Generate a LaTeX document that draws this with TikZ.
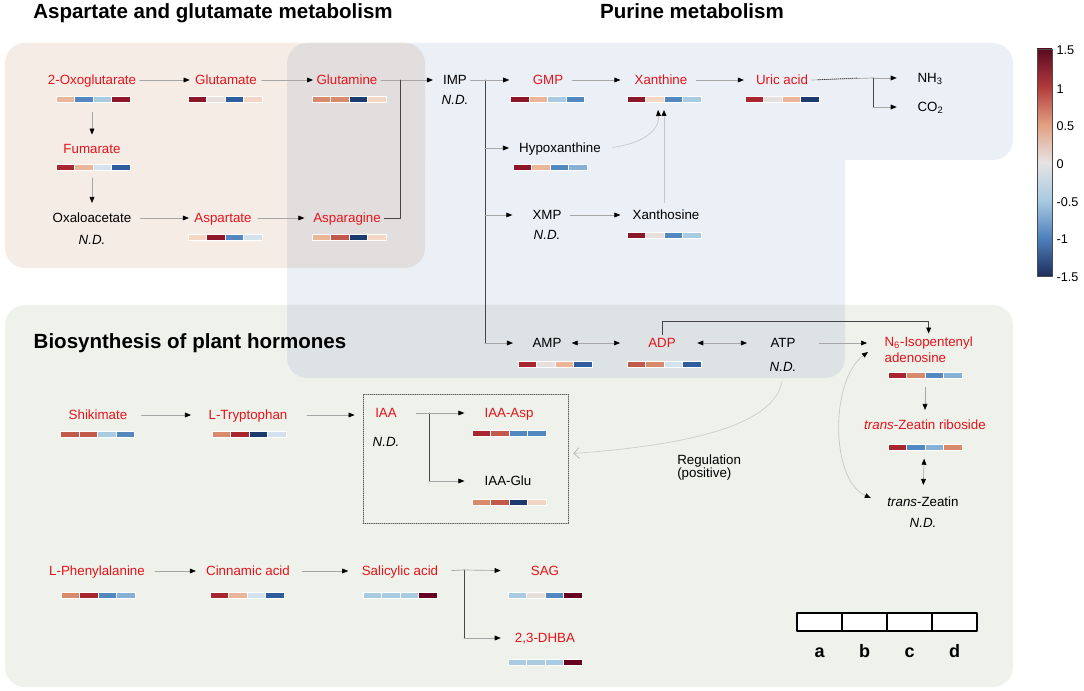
\documentclass[tikz,border=0pt]{standalone}
\usepackage{fontspec}
\setmainfont{Liberation Sans}
\usetikzlibrary{arrows.meta,calc}

\definecolor{bgorange}{HTML}{F6ECE6}
\definecolor{bgblue}{HTML}{EBF0F6}
\definecolor{bggreen}{HTML}{EFF1EB}
\definecolor{bgob}{HTML}{E3DEDE}
\definecolor{bggb}{HTML}{DDE3E4}
\definecolor{metred}{HTML}{E3141B}
% heat map shades, dark red to dark blue
\definecolor{hA}{HTML}{67001F}
\definecolor{hB}{HTML}{8E1629}
\definecolor{hC}{HTML}{A8272F}
\definecolor{hD}{HTML}{C25A4C}
\definecolor{hE}{HTML}{D88A6C}
\definecolor{hF}{HTML}{EBB697}
\definecolor{hG}{HTML}{F4D6C4}
\definecolor{hH}{HTML}{E7DFDB}
\definecolor{hI}{HTML}{D3E2EE}
\definecolor{hJ}{HTML}{A9CBE2}
\definecolor{hK}{HTML}{86B1D7}
\definecolor{hL}{HTML}{5287C0}
\definecolor{hM}{HTML}{2F5C9C}
\definecolor{hN}{HTML}{1B3A70}
% colour bar stops
\definecolor{cbA}{HTML}{5A0A20}
\definecolor{cbB}{HTML}{B23A3C}
\definecolor{cbC}{HTML}{E3A080}
\definecolor{cbD}{HTML}{E6E3E3}
\definecolor{cbE}{HTML}{A9CBE2}
\definecolor{cbF}{HTML}{4F80BD}
\definecolor{cbG}{HTML}{1E2E5C}

% x y c1 c2 c3 c4
\newcommand{\heatbar}[6]{%
  \foreach \hc [count=\hi from 0] in {#3,#4,#5,#6}
    \filldraw[fill=\hc,draw=white,line width=0.2pt] (#1-37+18.5*\hi,#2-3) rectangle ++(18.5,6);
}

\begin{document}
\begin{tikzpicture}[line cap=round,line join=round,x=0.75pt,y=-0.75pt,
  mfont/.style={font=\fontsize{10}{12}\selectfont},
  met/.style={mfont,text height=7.2pt,text depth=0pt,inner sep=2.5pt},
  hit/.style={met,text=metred},
  nd/.style={met,font=\fontsize{10}{12}\selectfont\itshape},
  ttl/.style={font=\fontsize{15.4}{18}\selectfont\bfseries,anchor=base},
  lgd/.style={font=\fontsize{13.5}{16}\selectfont\bfseries,anchor=base},
  cbl/.style={font=\fontsize{9.5}{11}\selectfont,text height=6.8pt,text depth=0pt,anchor=west,inner sep=1pt},
  seg/.style={draw=gray!70,line width=0.5pt},
  arr/.style={seg,-{Triangle[length=4.5pt,width=3.6pt,color=black]}},
  arrs/.style={seg,{Triangle[length=4.5pt,width=3.6pt,color=black]}-{Triangle[length=4.5pt,width=3.6pt,color=black]}},
  link/.style={draw=gray!55!black,line width=0.7pt}]
\useasboundingbox (0,0) rectangle (1084,691);

% panels
\fill[bgorange,rounded corners=15pt] (5,43) rectangle (425,268);
\fill[bggreen,rounded corners=15pt] (5,305) rectangle (1013,687);
\fill[bgblue,rounded corners=15pt] (287,43) rectangle (1013,160);
\fill[bgblue,rounded corners=15pt] (287,100) rectangle (845,378);
\begin{scope}
  \clip[rounded corners=15pt] (5,43) rectangle (425,268);
  \fill[bgob,rounded corners=15pt] (287,43) rectangle (1013,160);
  \fill[bgob,rounded corners=15pt] (287,100) rectangle (845,378);
\end{scope}
\begin{scope}
  \clip[rounded corners=15pt] (5,305) rectangle (1013,687);
  \fill[bggb,rounded corners=15pt] (287,100) rectangle (845,378);
\end{scope}

\node[ttl] (tasp) at (213,19) {Aspartate and glutamate metabolism};
\node[ttl] (tpur) at (692,19) {Purine metabolism};
\node[ttl] (thor) at (190,349) {Biosynthesis of plant hormones};

% aspartate and glutamate
\node[hit] (oxo) at (92,80) {2-Oxoglutarate};
\node[hit] (glu) at (226,80) {Glutamate};
\node[hit] (gln) at (347,80) {Glutamine};
\node[hit] (fum) at (92,149) {Fumarate};
\node[met] (oaa) at (92,218) {Oxaloacetate};
\node[nd] (oaand) at (92,240) {N.D.};
\node[hit] (asp) at (223,218) {Aspartate};
\node[hit] (asn) at (347,218) {Asparagine};

% purine
\node[met] (imp) at (455,80) {IMP};
\node[nd] (impnd) at (455,100) {N.D.};
\node[hit] (gmp) at (548,80) {GMP};
\node[hit] (xan) at (661,80) {Xanthine};
\node[hit] (uric) at (782,80) {Uric acid};
\node[met,anchor=west] (nh3) at (914,78) {NH\textsubscript{3}};
\node[met,anchor=west] (co2) at (914,107) {CO\textsubscript{2}};
\node[met] (hyp) at (560,148) {Hypoxanthine};
\node[met] (xmp) at (547,215) {XMP};
\node[nd] (xmpnd) at (547,235) {N.D.};
\node[met] (xao) at (666,215) {Xanthosine};
\node[met] (amp) at (547,343) {AMP};
\node[hit] (adp) at (662,343) {ADP};
\node[met] (atp) at (783,343) {ATP};
\node[nd] (atpnd) at (783,367) {N.D.};

% hormones
\node[mfont,text=metred,align=left,anchor=west,inner sep=2.5pt] (n6) at (881,350) {N\textsubscript{6}-Isopentenyl\\adenosine};
\node[hit] (tzr) at (925,425) {\textit{trans}-Zeatin riboside};
\node[met] (tz) at (923,502) {\textit{trans}-Zeatin};
\node[nd] (tznd) at (923,523) {N.D.};
\node[hit] (shik) at (98,415) {Shikimate};
\node[hit] (trp) at (248,415) {L-Tryptophan};
\node[draw=gray!70!black,densely dotted,line width=0.6pt,minimum width=153.75pt,minimum height=96.75pt,inner sep=0pt] (iaabox) at (465.5,458.5) {};
\node[hit] (iaa) at (386,413) {IAA};
\node[nd] (iaand) at (386,442) {N.D.};
\node[hit] (iaaasp) at (509,413) {IAA-Asp};
\node[met] (iaaglu) at (508,481) {IAA-Glu};
\node[mfont,font=\fontsize{10}{9.75}\selectfont,align=left,anchor=west,inner sep=0pt] (reg) at (677,468) {Regulation\\(positive)};
\node[hit] (phe) at (97,571) {L-Phenylalanine};
\node[hit] (cin) at (248,571) {Cinnamic acid};
\node[hit] (sal) at (400,571) {Salicylic acid};
\node[hit] (sag) at (545,571) {SAG};
\node[hit] (dhba) at (545,638) {2,3-DHBA};

% branch points
\coordinate (jasn) at (400,80);
\coordinate (t0) at (485,80);
\coordinate (t1) at (485,343);
\coordinate (br) at (873,78);
\coordinate (xin1) at (658,110);
\coordinate (xin2) at (664,110);
\coordinate (jiaa) at (429,413);
\coordinate (jsal) at (464,570);

% connectors, aspartate and glutamate
\draw[arr,shorten >=1.5pt] (oxo.east) -- (glu.west);
\draw[arr,shorten <=1pt] (glu.east) -- (gln.west);
\draw[arr,shorten <=18pt,shorten >=4.5pt] (oxo.south) -- (fum.north);
\draw[arr,shorten <=15.5pt,shorten >=5pt] (fum.south) -- (oaa.north);
\draw[arr,shorten <=4pt,shorten >=1.5pt] (oaa.east) -- (asp.west);
\draw[arr,shorten <=2pt,shorten >=4pt] (asp.east) -- (asn.west);
\draw[arr,shorten >=5pt] (gln.east) -- (imp.west);
\draw[link] (asn.east) -| (jasn);

% connectors, purine
\draw[seg] (imp.east) -- (t0);
\draw[link] (t0) -- (t1);
\draw[arr,shorten >=15pt] (t0) -- (gmp.west);
\draw[arr,shorten >=5pt] (t0 |- hyp) -- (hyp.west);
\draw[arr,shorten >=12.5pt] (t0 |- xmp) -- (xmp.west);
\draw[arr,shorten >=12pt] (t1) -- (amp.west);
\draw[arr,shorten <=4pt,shorten >=8pt] (gmp.east) -- (xan.west);
\draw[arr,shorten <=4pt,shorten >=6.5pt] (xan.east) -- (uric.west);
\draw[arr,shorten <=4pt,shorten >=6.5pt] (xmp.east) -- (xao.west);
\draw[seg] (uric.east) -- (br);
\draw[densely dotted,gray!40!black,line width=0.5pt,shorten <=5pt] (uric.east) -- ($(br)+(-15,0)$);
\draw[arr,shorten >=13pt] (br) -- (nh3.west);
\draw[link] (br) -- (br |- co2);
\draw[arr,shorten >=13pt] (br |- co2) -- (co2.west);
\draw[arr,draw=gray!45,shorten <=6pt] (hyp.east) to[out=5,in=-85] (xin1);
\draw[arr,draw=gray!45,shorten <=3pt] (xao.north -| xin2) -- (xin2);
\draw[arrs,shorten <=5pt,shorten >=18.5pt] (amp.east) -- (adp.west);
\draw[arrs,shorten <=13.5pt,shorten >=15pt] (adp.east) -- (atp.west);
\draw[arr,shorten <=15pt,shorten >=10.5pt] (atp.east) -- (atp.east -| n6.west);
\draw[link,-{Triangle[length=4.5pt,width=3.6pt,color=black]}] (adp.north) -- ++(0,-13) -| (n6.north);

% connectors, hormones
\draw[arr,shorten <=15.5pt,shorten >=5pt] (tzr.north |- n6.south) -- (tzr.north);
\draw[arrs,shorten <=19pt,shorten >=6.5pt] (tzr.south) -- (tz.north);
\draw[arrs,draw=gray!45] ($(n6.west)+(-13,2)$) .. controls (830,380) and (830,480) .. ($(tz.west)+(-13,-4)$);
\draw[draw=gray!40,line width=0.5pt,shorten <=4pt,-{Straight Barb[length=4pt,width=8pt,color=gray!60]}] (atpnd.south) .. controls (775,425) and (690,445) .. ($(iaabox.east)+(5,-5)$);
\draw[arr,shorten <=8pt,shorten >=10.5pt] (shik.east) -- (trp.west);
\draw[arr,shorten <=12pt,shorten >=6pt] (trp.east) -- (trp.east -| iaabox.west);
\draw[seg,shorten <=12pt] (iaa.east) -- (jiaa);
\draw[link] (jiaa) -- (jiaa |- iaaglu);
\draw[arr,shorten >=12.5pt] (jiaa) -- (iaaasp.west);
\draw[arr,shorten >=12.5pt] (jiaa |- iaaglu) -- (iaaglu.west);
\draw[arr,shorten <=5pt,shorten >=5pt] (phe.east) -- (cin.west);
\draw[arr,shorten <=6.5pt,shorten >=7.5pt] (cin.east) -- (sal.west);
\draw[seg,shorten <=7.5pt] (sal.east) -- (jsal);
\draw[link] (jsal) -- (jsal |- dhba);
\draw[arr,shorten >=20pt] (jsal) -- (sag.west);
\draw[arr,shorten >=8pt] (jsal |- dhba) -- (dhba.west);

% heat bars
\heatbar{93}{99}{hF}{hL}{hJ}{hB}
\heatbar{225}{99}{hB}{hH}{hM}{hG}
\heatbar{349}{99}{hE}{hE}{hN}{hG}
\heatbar{93}{167}{hC}{hF}{hI}{hM}
\heatbar{225}{237}{hG}{hB}{hL}{hI}
\heatbar{349}{237}{hF}{hD}{hN}{hG}
\heatbar{547.5}{99}{hB}{hF}{hJ}{hL}
\heatbar{664}{99}{hB}{hG}{hL}{hJ}
\heatbar{782}{99}{hC}{hH}{hF}{hN}
\heatbar{550}{167}{hB}{hF}{hL}{hK}
\heatbar{664}{235}{hB}{hH}{hL}{hJ}
\heatbar{555}{364}{hC}{hH}{hF}{hM}
\heatbar{664}{364}{hD}{hE}{hI}{hM}
\heatbar{925}{375}{hC}{hE}{hL}{hK}
\heatbar{925}{447}{hC}{hL}{hK}{hE}
\heatbar{97.5}{434}{hD}{hD}{hJ}{hL}
\heatbar{249}{434}{hE}{hC}{hN}{hI}
\heatbar{509}{433}{hC}{hD}{hL}{hL}
\heatbar{509}{502}{hE}{hD}{hN}{hG}
\heatbar{98}{595}{hE}{hC}{hL}{hK}
\heatbar{247}{595}{hC}{hF}{hI}{hM}
\heatbar{400}{595}{hJ}{hJ}{hJ}{hA}
\heatbar{545}{595}{hJ}{hH}{hL}{hA}
\heatbar{545}{662}{hJ}{hJ}{hJ}{hA}

% colour bar
\shade[top color=cbA,bottom color=cbB] (1037,49) rectangle (1052,86.8);
\shade[top color=cbB,bottom color=cbC] (1037,86.8) rectangle (1052,124.6);
\shade[top color=cbC,bottom color=cbD] (1037,124.6) rectangle (1052,162.4);
\shade[top color=cbD,bottom color=cbE] (1037,162.4) rectangle (1052,200.2);
\shade[top color=cbE,bottom color=cbF] (1037,200.2) rectangle (1052,238);
\shade[top color=cbF,bottom color=cbG] (1037,238) rectangle (1052,276);
\draw[gray!60!black,line width=0.4pt] (1037,49) rectangle (1052,276);
\node[cbl] (cb1) at (1055,50) {1.5};
\node[cbl] (cb2) at (1055,89) {1};
\node[cbl] (cb3) at (1055,126) {0.5};
\node[cbl] (cb4) at (1055,164) {0};
\node[cbl] (cb5) at (1055,202) {-0.5};
\node[cbl] (cb6) at (1055,239) {-1};
\node[cbl] (cb7) at (1055,277) {-1.5};

% sample legend
\filldraw[fill=white,line width=1.6pt] (797,613) rectangle (977,631);
\foreach \lx in {842,887,932}
  \draw[line width=1.6pt] (\lx,613) -- (\lx,631);
\foreach \lab [count=\k from 0] in {a,b,c,d}
  \node[lgd] (lg\lab) at (819.5+45*\k,657) {\lab};
\end{tikzpicture}
\end{document}
